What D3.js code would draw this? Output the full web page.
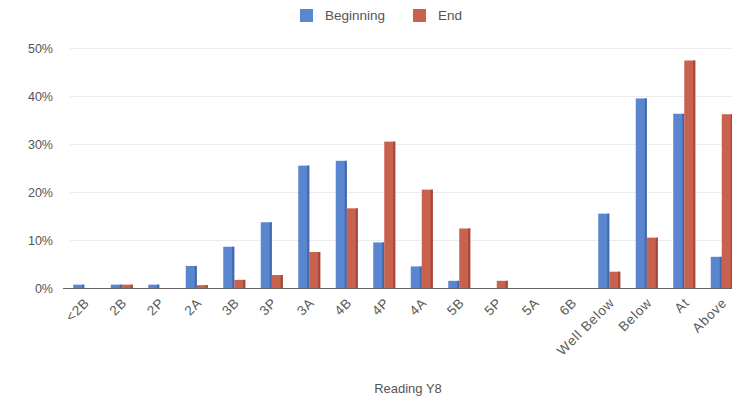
<!DOCTYPE html>
<html>
<head>
<meta charset="utf-8">
<script src="https://cdn.jsdelivr.net/npm/d3@7"></script>
<style>
  html, body { margin: 0; padding: 0; background: #fff; }
  svg { display: block; font-family: "Liberation Sans", Arial, sans-serif; }
</style>
</head>
<body>
<svg id="chart" width="732" height="402"></svg>
<script>
// Reading levels (Y8), share of pupils at the beginning and end of the year
const categories = ["<2B", "2B", "2P", "2A", "3B", "3P", "3A", "4B", "4P", "4A", "5B", "5P", "5A", "6B",
                    "Well Below", "Below", "At", "Above"];
const beginning = [0.8, 0.8, 0.8, 4.7, 8.7, 13.8, 25.6, 26.6, 9.6, 4.6, 1.6, 0.1, 0.1, 0.1, 15.6, 39.6, 36.4, 6.6];
const end       = [0.1, 0.8, 0.1, 0.7, 1.8, 2.8, 7.6, 16.7, 30.6, 20.6, 12.5, 1.6, 0.1, 0.1, 3.5, 10.6, 47.5, 36.3];
const yTicks = [0, 10, 20, 30, 40, 50];
const seriesNames = ["Beginning", "End"];
const seriesColors = ["#5a86d0", "#c9614f"];
const seriesEdges = ["#3f68ad", "#a2473a"];

const svg = d3.select("#chart");

const x = d3.scaleBand().domain(categories).range([65.5, 740.5]);
const y = d3.scaleLinear().domain([0, 50]).range([288.5, 48.5]);
const barW = 11;

// horizontal gridlines
svg.append("g").selectAll("line").data(yTicks.slice(1)).join("line")
  .attr("x1", 70).attr("x2", 732)
  .attr("y1", d => y(d)).attr("y2", d => y(d))
  .attr("stroke", "#ececec").attr("stroke-width", 1);

// y axis labels
const yAxis = d3.axisLeft(y).tickValues(yTicks).tickFormat(d => d + "%").tickSize(0).tickPadding(0);
const gy = svg.append("g").attr("transform", "translate(53,0)").call(yAxis);
gy.select(".domain").remove();
gy.selectAll("text").attr("fill", "#555").style("font-size", "12.5px")
  .style("font-family", "'Liberation Sans', Arial, sans-serif");

// bars
const series = [beginning, end];
series.forEach((vals, si) => {
  const g = svg.append("g");
  const bars = g.selectAll("g").data(categories).join("g")
    .attr("transform", (c, i) => `translate(${x(c) + x.bandwidth() / 2 - barW + si * barW},0)`);
  bars.append("rect")
    .attr("x", 0).attr("width", barW)
    .attr("y", (c, i) => y(vals[i]))
    .attr("height", (c, i) => y(0) - y(vals[i]))
    .attr("fill", seriesColors[si]);
  bars.append("rect")
    .attr("x", barW - 2).attr("width", 2)
    .attr("y", (c, i) => y(vals[i]))
    .attr("height", (c, i) => y(0) - y(vals[i]))
    .attr("fill", seriesEdges[si]);
});

// x axis
const xAxis = d3.axisBottom(x).tickSize(0).tickPadding(0);
const gx = svg.append("g").attr("transform", `translate(0,${y(0)})`).call(xAxis);
gx.select(".domain").attr("stroke", "#666").attr("d", "M63,0H732");
gx.selectAll("text")
  .attr("fill", "#5a5a5a").style("font-size", "13.5px")
  .style("letter-spacing", "0.8px")
  .style("font-family", "'Liberation Sans', Arial, sans-serif")
  .attr("text-anchor", "end")
  .attr("dy", null)
  .attr("transform", "translate(6,15) rotate(-45)");

// legend
const legend = svg.append("g");
const legendX = [300, 413];
seriesNames.forEach((name, i) => {
  legend.append("rect").attr("x", legendX[i]).attr("y", 9).attr("width", 13).attr("height", 13)
    .attr("fill", seriesColors[i]);
  legend.append("text").attr("x", legendX[i] + 25).attr("y", 20)
    .attr("fill", "#555").style("font-size", "13.5px").text(name);
});

// axis title
svg.append("text").attr("x", 408).attr("y", 393).attr("text-anchor", "middle")
  .attr("fill", "#555").style("font-size", "13px").text("Reading Y8");
</script>
</body>
</html>
